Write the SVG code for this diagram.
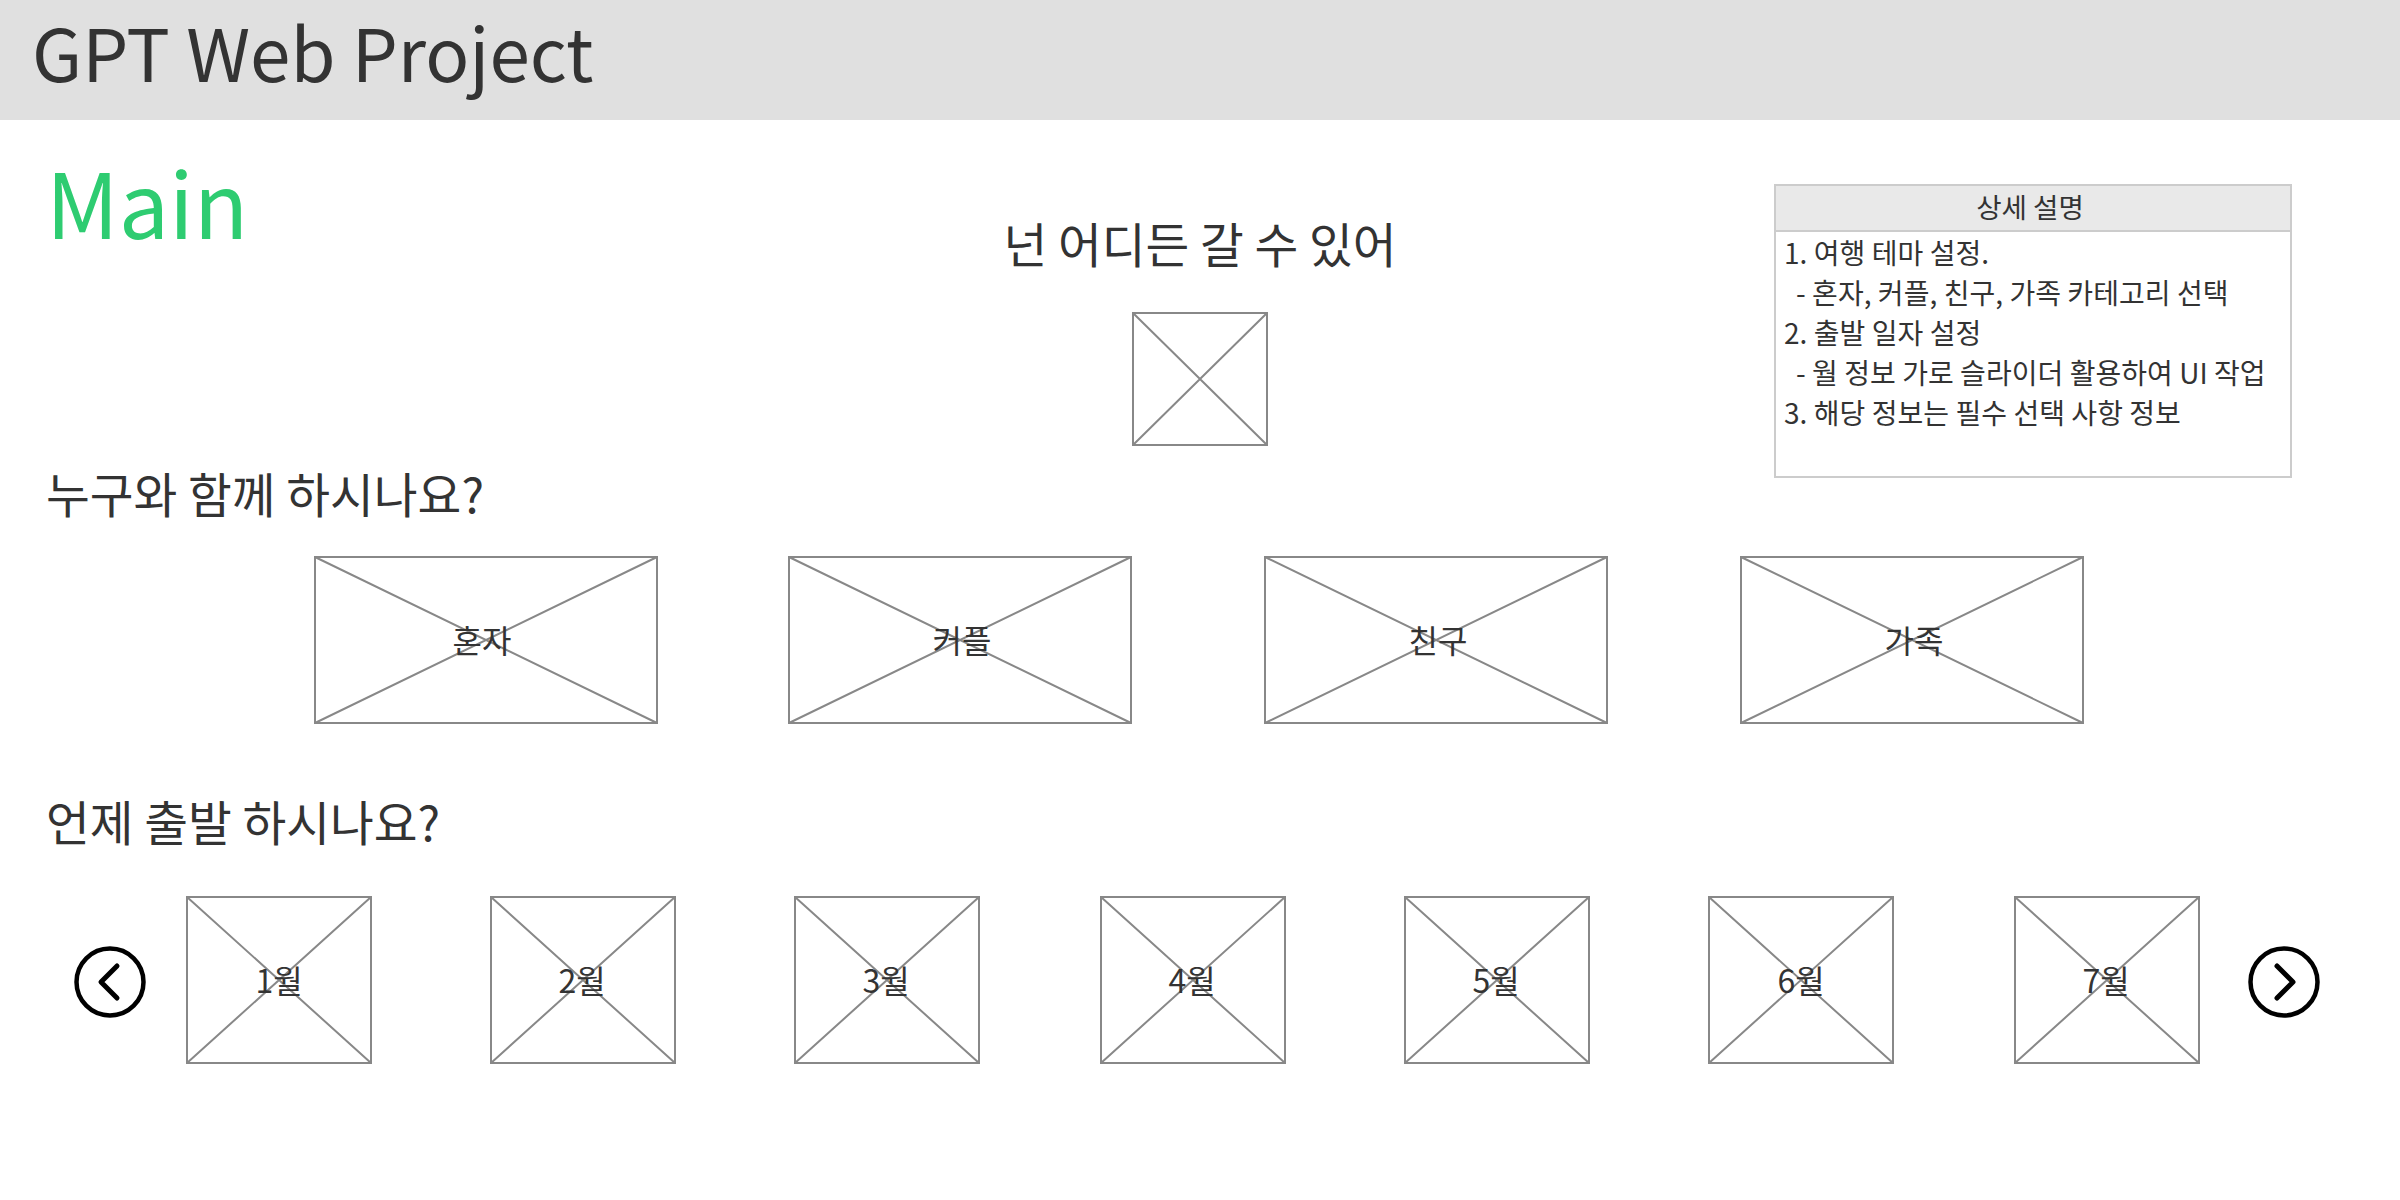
<svg xmlns="http://www.w3.org/2000/svg" width="2400" height="1200" viewBox="0 0 2400 1200">
<style>
text{font-family:"Noto Sans CJK KR","Noto Sans",sans-serif;fill:#333}
.ph rect{fill:#fff;stroke:#888;stroke-width:2}
.ph path{fill:none;stroke:#888;stroke-width:2}
.l{font-size:32px;text-anchor:middle}
.h{font-size:27.6px;text-anchor:middle}
.q{font-size:47.6px}
.d{font-size:28px;letter-spacing:.05px}
.nav circle{fill:#fff;stroke:#000;stroke-width:4.5}
.nav path{fill:none;stroke:#000;stroke-width:5;stroke-linecap:round;stroke-linejoin:round}
</style>
<rect width="2400" height="1200" fill="#fff"/>
<g id="header"><rect width="2400" height="120" fill="#e0e0e0"/><text x="32" y="82" font-size="72.8">GPT Web Project</text></g>
<text id="page-title" x="46" y="239" font-size="89.5" style="fill:#2ecc71">Main</text>
<text id="headline" x="1200" y="263" class="q" text-anchor="middle">넌 어디든 갈 수 있어</text>
<g id="hero-image" class="ph"><rect x="1133" y="313" width="134" height="132"/><path d="M1133 313L1267 445M1267 313L1133 445"/></g>
<g id="detail-panel">
<rect x="1775" y="185" width="516" height="292" fill="#fff" stroke="#ccc" stroke-width="2"/>
<rect x="1775" y="185" width="516" height="46" fill="#e9e9e9" stroke="#ccc" stroke-width="2"/>
<text x="2030" y="218" class="h">상세 설명</text>
<text class="d" x="1784" y="264">1. 여행 테마 설정.</text>
<text class="d" x="1796" y="304">- 혼자, 커플, 친구, 가족 카테고리 선택</text>
<text class="d" x="1784" y="344">2. 출발 일자 설정</text>
<text class="d" x="1796" y="384">- 월 정보 가로 슬라이더 활용하여 UI 작업</text>
<text class="d" x="1784" y="424">3. 해당 정보는 필수 선택 사항 정보</text>
</g>
<text id="q-who" x="46" y="513" class="q">누구와 함께 하시나요?</text>
<g id="who-solo" class="ph"><rect x="315" y="557" width="342" height="166"/><path d="M315 557L657 723M657 557L315 723"/><text x="482" y="653" class="l">혼자</text></g>
<g id="who-couple" class="ph"><rect x="789" y="557" width="342" height="166"/><path d="M789 557L1131 723M1131 557L789 723"/><text x="962" y="653" class="l">커플</text></g>
<g id="who-friend" class="ph"><rect x="1265" y="557" width="342" height="166"/><path d="M1265 557L1607 723M1607 557L1265 723"/><text x="1438" y="653" class="l">친구</text></g>
<g id="who-family" class="ph"><rect x="1741" y="557" width="342" height="166"/><path d="M1741 557L2083 723M2083 557L1741 723"/><text x="1914" y="653" class="l">가족</text></g>
<text id="q-when" x="46" y="841" class="q">언제 출발 하시나요?</text>
<g id="nav-prev" class="nav"><circle cx="110" cy="982" r="33.5"/><path d="M117 966L101 982L117 998"/></g>
<g id="month-1" class="ph"><rect x="187" y="897" width="184" height="166"/><path d="M187 897L371 1063M371 897L187 1063"/><text x="279" y="993" class="l">1월</text></g>
<g id="month-2" class="ph"><rect x="491" y="897" width="184" height="166"/><path d="M491 897L675 1063M675 897L491 1063"/><text x="582" y="993" class="l">2월</text></g>
<g id="month-3" class="ph"><rect x="795" y="897" width="184" height="166"/><path d="M795 897L979 1063M979 897L795 1063"/><text x="886" y="993" class="l">3월</text></g>
<g id="month-4" class="ph"><rect x="1101" y="897" width="184" height="166"/><path d="M1101 897L1285 1063M1285 897L1101 1063"/><text x="1192" y="993" class="l">4월</text></g>
<g id="month-5" class="ph"><rect x="1405" y="897" width="184" height="166"/><path d="M1405 897L1589 1063M1589 897L1405 1063"/><text x="1496" y="993" class="l">5월</text></g>
<g id="month-6" class="ph"><rect x="1709" y="897" width="184" height="166"/><path d="M1709 897L1893 1063M1893 897L1709 1063"/><text x="1801" y="993" class="l">6월</text></g>
<g id="month-7" class="ph"><rect x="2015" y="897" width="184" height="166"/><path d="M2015 897L2199 1063M2199 897L2015 1063"/><text x="2106" y="993" class="l">7월</text></g>
<g id="nav-next" class="nav"><circle cx="2284" cy="982" r="33.5"/><path d="M2277 966L2293 982L2277 998"/></g>
<g id="connectors"/>
</svg>
